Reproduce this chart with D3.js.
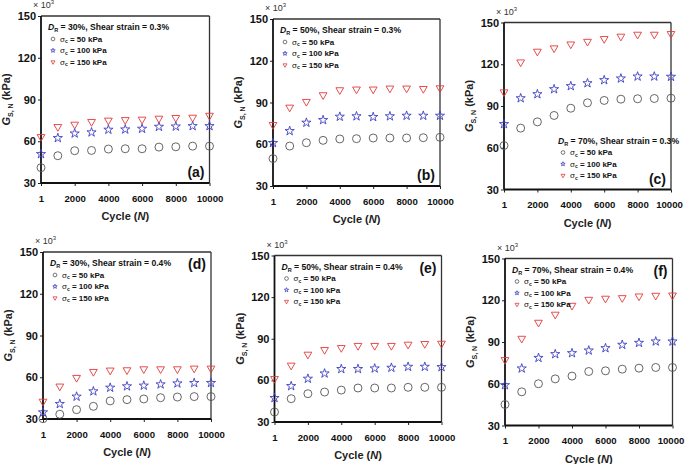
<!DOCTYPE html>
<html>
<head>
<meta charset="utf-8">
<script src="https://cdn.jsdelivr.net/npm/d3@7"></script>
<style>
  html, body { margin: 0; padding: 0; background: #fff; }
  svg { display: block; }
  text { font-family: "Liberation Sans", Arial, sans-serif; }
</style>
</head>
<body>
<svg id="chart" width="685" height="464"></svg>
<script>
// ---------- DATA ----------
const cycles = [1, 1000, 2000, 3000, 4000, 5000, 6000, 7000, 8000, 9000, 10000];
const xTicks = [1, 2000, 4000, 6000, 8000, 10000];
const yTicks = [30, 60, 90, 120, 150];
const panelLetters = ["a", "b", "c", "d", "e", "f"];
const densities = ["30%", "50%", "70%", "30%", "50%", "70%"];
const strains = ["0.3%", "0.3%", "0.3%", "0.4%", "0.4%", "0.4%"];
const stressLabels = ["50 kPa", "100 kPa", "150 kPa"];

// G_S,N (x10^3 kPa) for sigma_c = 50 / 100 / 150 kPa
const a50  = [41.0, 49.6, 53.2, 53.4, 54.4, 54.6, 54.6, 55.8, 56.0, 56.5, 56.5];
const a100 = [50.8, 62.3, 65.6, 66.4, 68.3, 68.5, 69.0, 70.4, 70.6, 70.9, 70.9];
const a150 = [63.2, 70.4, 72.1, 74.0, 75.0, 75.4, 75.7, 76.4, 76.9, 77.1, 78.5];

const b50  = [49.7, 58.7, 61.1, 62.8, 63.8, 64.0, 64.5, 64.5, 64.5, 64.7, 65.0];
const b100 = [60.9, 69.5, 75.5, 77.4, 79.8, 80.1, 79.6, 80.1, 80.5, 80.5, 80.5];
const b150 = [74.0, 86.5, 90.6, 95.4, 99.0, 99.5, 99.5, 100.2, 100.2, 99.9, 100.4];

const c50  = [61.6, 74.1, 78.6, 83.2, 88.4, 92.3, 94.0, 94.9, 95.2, 95.4, 95.6];
const c100 = [77.0, 95.6, 98.5, 102.1, 104.3, 106.4, 108.6, 109.8, 111.2, 111.2, 111.0];
const c150 = [100.0, 121.5, 129.2, 131.6, 134.4, 136.3, 138.3, 140.0, 141.4, 141.4, 141.9];

const d50  = [30.2, 33.4, 36.7, 39.1, 43.0, 43.9, 44.4, 45.3, 45.8, 46.1, 46.1];
const d100 = [34.8, 40.8, 46.1, 49.9, 52.5, 53.5, 54.0, 54.9, 55.6, 55.9, 55.9];
const d150 = [42.6, 53.5, 59.7, 64.0, 65.0, 65.2, 65.9, 65.9, 65.9, 66.4, 66.4];

const e50  = [37.2, 46.8, 50.4, 51.6, 53.0, 54.5, 54.5, 54.5, 55.0, 55.0, 55.0];
const e100 = [47.3, 55.9, 61.2, 65.0, 68.2, 68.2, 68.6, 69.1, 69.8, 69.8, 69.6];
const e150 = [61.2, 70.8, 78.7, 82.1, 83.5, 85.0, 85.0, 85.0, 85.9, 86.4, 86.6];

const f50  = [45.1, 54.2, 60.0, 63.5, 65.5, 68.8, 69.3, 70.5, 71.2, 71.7, 71.7];
const f100 = [59.0, 71.0, 78.6, 81.3, 82.0, 83.9, 85.6, 88.0, 89.4, 90.4, 90.4];
const f150 = [77.2, 92.5, 104.0, 109.8, 116.2, 120.5, 121.3, 121.7, 122.9, 123.4, 123.6];

const panelSeries = [
  [a50, a100, a150], [b50, b100, b150], [c50, c100, c150],
  [d50, d100, d150], [e50, e100, e150], [f50, f100, f150]
];

// ---------- LAYOUT ----------
const boxes = [
  {l: 41,  r: 209.5, t: 16,  b: 183},
  {l: 273, r: 440,   t: 19,  b: 186},
  {l: 504, r: 671,   t: 22.5, b: 189.5},
  {l: 43,  r: 211,   t: 252, b: 419},
  {l: 274.5, r: 441.5, t: 255.5, b: 422},
  {l: 505, r: 672.5, t: 258.5, b: 425.5}
];
const legendPos = ["tl", "tl", "br", "tl", "tl", "tl"];
const letterPos = ["br", "br", "br", "tr", "tr", "tr"];

const colors = ["#555555", "#4040c4", "#e33a3a"];
const symbols = [d3.symbolCircle, d3.symbolStar, d3.symbolTriangle];
const bigSizes = [50, 26, 26];
const smallSizes = [11, 6, 7];
const rotations = [0, 0, 180];

const svg = d3.select("#chart");
const FONT = '"Liberation Sans", Arial, sans-serif';

boxes.forEach((bx, i) => {
  const g = svg.append("g");
  const x = d3.scaleLinear().domain([1, 10000]).range([bx.l, bx.r]);
  const y = d3.scaleLinear().domain([30, 150]).range([bx.b, bx.t]);

  const xAxis = d3.axisBottom(x).tickValues(xTicks).tickSize(3).tickSizeOuter(0).tickFormat(d3.format("d"));
  const yAxis = d3.axisLeft(y).tickValues(yTicks).tickSize(3).tickSizeOuter(0).tickFormat(d3.format("d"));
  const gx = g.append("g").attr("transform", `translate(0,${bx.b})`).call(xAxis);
  const gy = g.append("g").attr("transform", `translate(${bx.l},0)`).call(yAxis);
  [gx, gy].forEach(ax => {
    ax.select(".domain").remove();
    ax.selectAll(".tick line").attr("stroke", "#222").attr("stroke-width", 1);
    ax.selectAll(".tick text").attr("font-family", FONT)
      .attr("font-weight", "bold").attr("fill", "#111");
  });
  gx.selectAll(".tick text").attr("font-size", 9.6).attr("dy", "0.71em").attr("y", 12);
  // keep the last label of the right-most panels inside the page
  if (bx.r > 660) {
    gx.selectAll(".tick text").filter(d => d === 10000).attr("dx", -2);
  }
  gy.selectAll(".tick text").attr("font-size", 11).attr("x", -5);

  // frame
  g.append("line").attr("x1", bx.l).attr("x2", bx.r).attr("y1", bx.t).attr("y2", bx.t)
    .attr("stroke", "#333").attr("stroke-width", 1.3);
  g.append("line").attr("x1", bx.r).attr("x2", bx.r).attr("y1", bx.t).attr("y2", bx.b)
    .attr("stroke", "#333").attr("stroke-width", 1.3);
  g.append("line").attr("x1", bx.l).attr("x2", bx.r).attr("y1", bx.b).attr("y2", bx.b)
    .attr("stroke", "#111").attr("stroke-width", 1.8);
  g.append("line").attr("x1", bx.l).attr("x2", bx.l).attr("y1", bx.t).attr("y2", bx.b)
    .attr("stroke", "#111").attr("stroke-width", 1.8);

  // x10^3
  const mult = g.append("text").attr("x", bx.l - 8).attr("y", bx.t - 8)
    .attr("font-size", 9).attr("fill", "#333");
  mult.append("tspan").text("× 10");
  mult.append("tspan").attr("font-size", 6).attr("dy", -4).text("3");

  // axis titles
  const xt = g.append("text").attr("x", (bx.l + bx.r) / 2).attr("y", bx.b + 37)
    .attr("text-anchor", "middle").attr("font-size", 11).attr("font-weight", "bold").attr("fill", "#222");
  xt.append("tspan").text("Cycle (");
  xt.append("tspan").attr("font-style", "italic").text("N");
  xt.append("tspan").text(")");

  const yt = g.append("text")
    .attr("transform", `translate(${bx.l - 31},${(bx.t + bx.b) / 2}) rotate(-90)`)
    .attr("text-anchor", "middle").attr("font-size", 11).attr("font-weight", "bold").attr("fill", "#222");
  yt.append("tspan").attr("font-style", "italic").text("G");
  yt.append("tspan").attr("font-size", 7).attr("dy", 3).text("S, N");
  yt.append("tspan").attr("dy", -3).text(" (kPa)");

  // data points
  panelSeries[i].forEach((vals, s) => {
    const sym = d3.symbol().type(symbols[s]).size(bigSizes[s]);
    g.append("g").selectAll("path").data(vals).join("path")
      .attr("d", sym)
      .attr("transform", (d, k) => `translate(${x(cycles[k])},${y(d)}) rotate(${rotations[s]})`)
      .attr("fill", "none").attr("stroke", colors[s]).attr("stroke-width", 0.9);
  });

  // legend
  let lx, ly0;
  if (legendPos[i] === "tl") { lx = bx.l + 7; ly0 = bx.t + 14; }
  else { lx = bx.l + 54; ly0 = bx.b - 46; }
  const lt = g.append("text").attr("x", lx).attr("y", ly0)
    .attr("font-size", 8.6).attr("font-weight", "bold").attr("fill", "#111");
  lt.append("tspan").attr("font-style", "italic").text("D");
  lt.append("tspan").attr("font-size", 5.5).attr("dy", 2).text("R");
  lt.append("tspan").attr("dy", -2).text(` = ${densities[i]}, Shear strain = ${strains[i]}`);

  stressLabels.forEach((lab, s) => {
    const ry = ly0 + 11.5 * (s + 1);
    const sym = d3.symbol().type(symbols[s]).size(smallSizes[s]);
    g.append("path").attr("d", sym)
      .attr("transform", `translate(${lx + 5},${ry - 2.5}) rotate(${rotations[s]})`)
      .attr("fill", "none").attr("stroke", colors[s]).attr("stroke-width", 0.8);
    const tx = g.append("text").attr("x", lx + 12).attr("y", ry)
      .attr("font-size", 8).attr("font-weight", "bold").attr("fill", "#111");
    tx.append("tspan").attr("font-weight", "normal").text("σ");
    tx.append("tspan").attr("font-size", 5).attr("dy", 1.5).text("c");
    tx.append("tspan").attr("dy", -1.5).text(` = ${lab}`);
  });

  // panel letter
  const lty = letterPos[i] === "br" ? bx.b - 6 : bx.t + 17;
  g.append("text").attr("x", bx.r - 5).attr("y", lty).attr("text-anchor", "end")
    .attr("font-size", 14).attr("font-weight", "bold").attr("fill", "#111")
    .text(`(${panelLetters[i]})`);
});
</script>
</body>
</html>
